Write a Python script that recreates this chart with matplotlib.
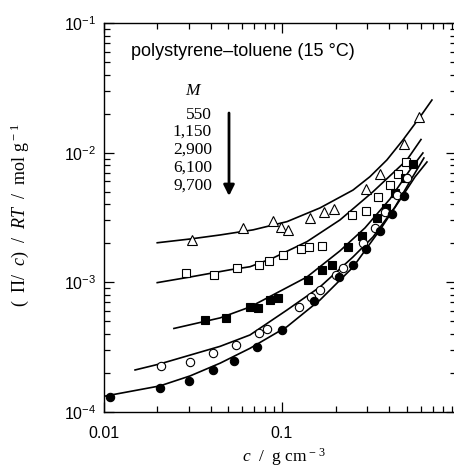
import matplotlib

matplotlib.use("Agg")
import matplotlib.pyplot as plt
from matplotlib.ticker import NullFormatter

plt.rcParams["font.family"] = ["Liberation Sans", "DejaVu Sans"]
plt.rcParams["mathtext.fontset"] = "custom"
plt.rcParams["mathtext.rm"] = "Liberation Serif"
plt.rcParams["mathtext.it"] = "Liberation Serif:italic"
plt.rcParams["axes.unicode_minus"] = False

# molar masses (legend column)
masses = ["550", "1,150", "2,900", "6,100", "9,700"]

# M = 550, open triangles
c_550 = [0.0313, 0.0605, 0.0890, 0.0987, 0.108, 0.1436, 0.172, 0.1954, 0.296, 0.354, 0.482, 0.586]
y_550 = [0.00212, 0.00263, 0.00297, 0.00267, 0.00254, 0.00314, 0.00349, 0.00368, 0.00525, 0.00685, 0.01167, 0.0188]
fit_c_550 = [0.0200, 0.0306, 0.0450, 0.0689, 0.1067, 0.1633, 0.250, 0.311, 0.387, 0.476, 0.593, 0.692]
fit_y_550 = [0.00202, 0.00216, 0.00232, 0.00254, 0.00294, 0.00375, 0.00515, 0.00653, 0.00879, 0.01253, 0.01884, 0.02548]

# M = 1,150, open squares
c_1150 = [0.0290, 0.0416, 0.0560, 0.0743, 0.0845, 0.1014, 0.1276, 0.1416, 0.1675, 0.2466, 0.296, 0.345, 0.403, 0.447, 0.496]
y_1150 = [0.00119, 0.00114, 0.00130, 0.00137, 0.00145, 0.00163, 0.00180, 0.00186, 0.00190, 0.00331, 0.00358, 0.00452, 0.00559, 0.00688, 0.00848]
fit_c_1150 = [0.0200, 0.0306, 0.0512, 0.0662, 0.0890, 0.138, 0.2113, 0.3236, 0.501, 0.601]
fit_y_1150 = [0.000995, 0.00110, 0.00125, 0.00132, 0.00154, 0.00206, 0.00303, 0.00500, 0.00879, 0.01264]

# M = 2,900, filled squares
c_2900 = [0.0370, 0.0486, 0.0662, 0.0734, 0.0857, 0.0950, 0.1398, 0.1675, 0.1905, 0.2344, 0.2805, 0.3404, 0.3828, 0.4295, 0.4887, 0.542]
y_2900 = [0.000513, 0.000535, 0.000640, 0.000635, 0.000731, 0.000762, 0.00104, 0.00124, 0.00135, 0.00186, 0.00228, 0.00314, 0.00375, 0.00489, 0.00638, 0.00818]
fit_c_2900 = [0.0248, 0.0450, 0.0662, 0.0890, 0.138, 0.2113, 0.2917, 0.403, 0.521, 0.616]
fit_y_2900 = [0.000441, 0.000532, 0.000646, 0.000800, 0.00110, 0.00175, 0.00263, 0.00440, 0.00736, 0.00995]

# M = 6,100, open circles
c_6100 = [0.0210, 0.0306, 0.0408, 0.0549, 0.0746, 0.0821, 0.1241, 0.1454, 0.1643, 0.1995, 0.2196, 0.2854, 0.3319, 0.3776, 0.4406, 0.501]
y_6100 = [0.000227, 0.000243, 0.000287, 0.000326, 0.000405, 0.000436, 0.000640, 0.000765, 0.000867, 0.00113, 0.00128, 0.00200, 0.00263, 0.00349, 0.00472, 0.00638]
fit_c_6100 = [0.01502, 0.0207, 0.0306, 0.0450, 0.0662, 0.1067, 0.1633, 0.250, 0.3236, 0.4295, 0.535, 0.624]
fit_y_6100 = [0.000211, 0.000235, 0.000275, 0.000321, 0.000393, 0.000612, 0.000922, 0.00157, 0.00224, 0.00381, 0.00638, 0.00910]

# M = 9,700, filled circles
c_9700 = [0.01094, 0.0207, 0.0300, 0.0412, 0.0538, 0.0727, 0.0996, 0.1505, 0.2078, 0.250, 0.296, 0.354, 0.413, 0.482]
y_9700 = [0.000130, 0.000153, 0.000175, 0.000211, 0.000248, 0.000319, 0.000430, 0.000715, 0.00110, 0.00136, 0.00181, 0.00249, 0.00337, 0.00464]
fit_c_9700 = [0.0100, 0.0207, 0.0306, 0.0450, 0.0662, 0.1067, 0.1633, 0.250, 0.354, 0.458, 0.556, 0.649]
fit_y_9700 = [0.000132, 0.000159, 0.000190, 0.000238, 0.000310, 0.000455, 0.000731, 0.00131, 0.00254, 0.00432, 0.00650, 0.00848]

series = [
    (c_550, y_550, fit_c_550, fit_y_550, "^", "white", 7.0),
    (c_1150, y_1150, fit_c_1150, fit_y_1150, "s", "white", 5.8),
    (c_2900, y_2900, fit_c_2900, fit_y_2900, "s", "black", 5.8),
    (c_6100, y_6100, fit_c_6100, fit_y_6100, "o", "white", 6.0),
    (c_9700, y_9700, fit_c_9700, fit_y_9700, "o", "black", 6.0),
]

fig = plt.figure(figsize=(4.54, 4.69), dpi=100)
ax = fig.add_axes([0.228, 0.1215, 0.7775, 0.8294])

for cx, cy, fx, fy, marker, face, size in series:
    ax.plot(fx, fy, color="black", lw=1.2, zorder=2)
    ax.plot(cx, cy, linestyle="none", marker=marker, ms=size,
            mfc=face, mec="black", mew=0.8, zorder=3)

ax.set_xscale("log")
ax.set_yscale("log")
ax.set_xlim(0.01, 0.95)
ax.set_ylim(1e-4, 1e-1)

ax.set_xticks([0.01, 0.1], labels=["0.01", "0.1"])
ax.xaxis.set_minor_formatter(NullFormatter())
ax.tick_params(which="both", direction="in", top=True, right=True, width=0.9)
ax.tick_params(which="major", length=7)
ax.tick_params(which="minor", length=4)
ax.tick_params(axis="x", labelsize=11.5, pad=10)
ax.tick_params(axis="y", labelsize=11.5, pad=5)
for side in ["left", "bottom", "top"]:
    ax.spines[side].set_linewidth(1.0)
ax.spines["right"].set_visible(False)

# annotation text
fig.text(131 / 454, 1 - 52 / 469, "polystyrene\u2013toluene (15 \u00b0C)",
         fontsize=13, ha="left", va="center")
fig.text(192 / 454, 1 - 91 / 469, "M", family="Liberation Serif",
         style="italic", fontsize=12.5, ha="center", va="center")
mass_rows = [115, 132, 150, 168, 186]
for label, row in zip(masses, mass_rows):
    fig.text(212 / 454, 1 - row / 469, label, family="Liberation Serif",
             fontsize=12.5, ha="right", va="center")

ax.annotate("", xy=(229 / 454, 1 - 196 / 469), xytext=(229 / 454, 1 - 113 / 469),
            xycoords="figure fraction", textcoords="figure fraction",
            arrowprops=dict(arrowstyle="-|>", lw=2.0, color="black",
                            mutation_scale=16, shrinkA=0, shrinkB=0))

# axis titles
fig.text(284 / 454, 1 - 457 / 469, r"$c$  /  g cm$^{\rm -\,3}$",
         family="Liberation Serif", fontsize=12.5, ha="center", va="center")
fig.text(20 / 454, 1 - 215 / 469, r"(  $\Pi$/  $c$)  /  $RT$  /  mol g$^{\rm -\,1}$",
         family="Liberation Serif", fontsize=13, ha="center", va="center",
         rotation=90)

fig.savefig("out.png", dpi=100)
